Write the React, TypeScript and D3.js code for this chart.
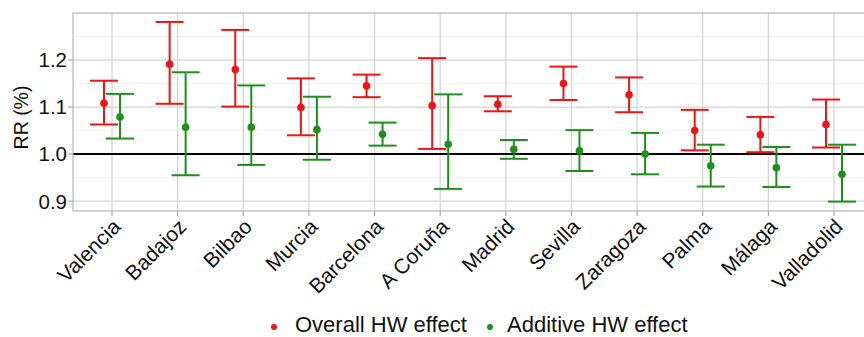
import React from "react";
import * as d3 from "d3";

const cities = ["Valencia","Badajoz","Bilbao","Murcia","Barcelona","A Coruña","Madrid","Sevilla","Zaragoza","Palma","Málaga","Valladolid"];
const overallEst = [1.108,1.191,1.180,1.099,1.145,1.103,1.106,1.150,1.126,1.050,1.041,1.063];
const overallLow = [1.063,1.107,1.101,1.040,1.121,1.011,1.091,1.115,1.089,1.008,1.004,1.014];
const overallHigh = [1.156,1.281,1.264,1.161,1.169,1.204,1.123,1.186,1.163,1.094,1.079,1.116];
const additiveEst = [1.079,1.057,1.057,1.052,1.042,1.021,1.010,1.007,1.000,0.975,0.971,0.957];
const additiveLow = [1.033,0.955,0.977,0.988,1.018,0.926,0.990,0.964,0.957,0.931,0.930,0.899];
const additiveHigh = [1.128,1.174,1.146,1.122,1.067,1.127,1.030,1.051,1.045,1.020,1.015,1.020];
const yTicks = [0.9,1.0,1.1,1.2];
const yMinor = [0.95,1.05,1.15,1.25];
const seriesNames = ["Overall HW effect","Additive HW effect"];

const RED = "#ec1414";
const GREEN = "#1b901b";
const FONT = "'Liberation Sans', Arial, Helvetica, sans-serif";

export default function App() {
  const W = 864, H = 337;
  const left = 73, top = 13, bottom = 211, right = 873;
  const y = d3.scaleLinear().domain([0.879, 1.30]).range([bottom, top]);
  const x = d3.scalePoint<string>().domain(cities).range([112, 834]);
  const dodge = 8;
  const capHalf = 14;
  const series = [
    { est: overallEst, low: overallLow, high: overallHigh, color: RED, off: -dodge },
    { est: additiveEst, low: additiveLow, high: additiveHigh, color: GREEN, off: dodge },
  ];
  return (
    <svg width={W} height={H} style={{ position: "absolute", left: 0, top: 0 }} fontFamily={FONT}>
      <rect x={0} y={0} width={W} height={H} fill="#fff" />
      {yMinor.map((v) => (
        <line key={"mn" + v} x1={left} x2={right} y1={y(v)} y2={y(v)} stroke="#efefef" strokeWidth={0.8} />
      ))}
      {yTicks.map((v) => (
        <line key={"mj" + v} x1={left} x2={right} y1={y(v)} y2={y(v)} stroke="#d4d4d4" strokeWidth={1.3} />
      ))}
      {cities.map((c) => (
        <line key={"vg" + c} x1={x(c)} x2={x(c)} y1={top} y2={bottom} stroke="#d4d4d4" strokeWidth={1.3} />
      ))}
      <line x1={left} x2={right} y1={y(1)} y2={y(1)} stroke="#000" strokeWidth={2} />
      <rect x={left} y={top} width={right - left} height={bottom - top} fill="none" stroke="#b5b5b5" strokeWidth={1.2} />
      {series.map((s, si) => (
        <g key={"s" + si} stroke={s.color} strokeWidth={2} fill={s.color}>
          {cities.map((c, i) => {
            const cx = (x(c) as number) + s.off;
            return (
              <g key={c}>
                <line x1={cx} x2={cx} y1={y(s.low[i])} y2={y(s.high[i])} />
                <line x1={cx - capHalf} x2={cx + capHalf} y1={y(s.low[i])} y2={y(s.low[i])} />
                <line x1={cx - capHalf} x2={cx + capHalf} y1={y(s.high[i])} y2={y(s.high[i])} />
                <circle cx={cx} cy={y(s.est[i])} r={3.8} stroke="none" />
              </g>
            );
          })}
        </g>
      ))}
      {yTicks.map((v) => (
        <g key={"yt" + v}>
          <line x1={left - 5} x2={left} y1={y(v)} y2={y(v)} stroke="#999" strokeWidth={1} />
          <text x={left - 6} y={y(v)} dy="0.36em" textAnchor="end" fontSize={20.5} fill="#111">
            {v.toFixed(1)}
          </text>
        </g>
      ))}
      {cities.map((c) => (
        <g key={"xt" + c}>
          <line x1={x(c)} x2={x(c)} y1={bottom} y2={bottom + 5} stroke="#999" strokeWidth={1} />
          <text
            transform={`translate(${(x(c) as number) + 10},${bottom + 17}) rotate(-45)`}
            textAnchor="end"
            fontSize={21}
            fill="#111"
          >
            {c}
          </text>
        </g>
      ))}
      <text transform={`translate(28,117.5) rotate(-90)`} textAnchor="middle" fontSize={19.5} fill="#111">
        RR (%)
      </text>
      <circle cx={274} cy={327} r={3} fill={RED} />
      <text x={295} y={332} fontSize={22} fill="#111">{seriesNames[0]}</text>
      <circle cx={490} cy={327} r={3} fill={GREEN} />
      <text x={507} y={332} fontSize={22} fill="#111">{seriesNames[1]}</text>
    </svg>
  );
}
